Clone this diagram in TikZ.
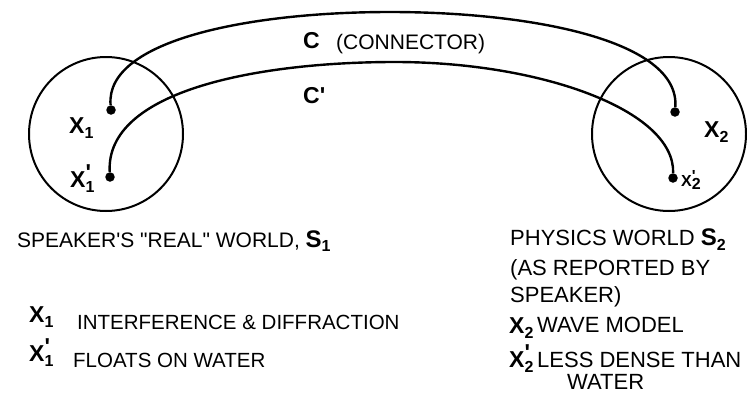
\documentclass[tikz,border=0pt]{standalone}
\usepackage{fontspec}
\setmainfont{Liberation Sans}[Ligatures=TeXOff]
\usepackage{tikz}
\usetikzlibrary{positioning}

\newcommand{\xsub}[1]{\textbf{X}\raisebox{-0.45ex}{\fontsize{16}{16}\selectfont\bfseries #1}}
\newcommand{\xpsub}[1]{\textbf{X}\rlap{\raisebox{0.5ex}{\bfseries '}}\raisebox{-0.45ex}{\fontsize{16}{16}\selectfont\bfseries #1}}

\begin{document}
\begin{tikzpicture}[x=1pt,y=-1pt,
  font=\fontsize{21}{24}\selectfont,
  world/.style={circle,draw,line width=2pt,minimum size=154pt,inner sep=0pt},
  dot/.style={circle,fill,inner sep=0pt,minimum size=9.5pt},
  conn/.style={line width=2.4pt},
  txt/.style={anchor=base west,inner sep=0pt},
  xl/.style={anchor=base west,inner sep=0pt,font=\fontsize{23}{24}\selectfont}]
  \useasboundingbox (0,0) rectangle (747,394);
  % the two worlds
  \node[world] (s1) at (106,134) {};
  \node[world] (s2) at (669,134) {};
  \node[dot] (x1) at (111,110) {};
  \node[dot] (x1p) at (110,177) {};
  \node[dot] (x2) at (675,112) {};
  \node[dot] (x2p) at (673,178) {};
  \node[xl] (lx1) at (69,133) {\xsub{1}};
  \node[xl] (lx1p) at (70,187) {\xpsub{1}};
  \node[xl] (lx2) at (704,137) {\xsub{2}};
  \node[xl,font=\fontsize{16}{17}\selectfont] (lx2p) at (681,186) {\xpsub{2}};
  % connectors
  \draw[conn] (x1) .. controls (105,40) and (250,12) .. (390,12)
                   .. controls (530,12) and (680,40) .. (x2);
  \draw[conn] (x1p) .. controls (105,90) and (260,62) .. (395,62)
                    .. controls (540,62) and (675,110) .. (x2p);
  \node[txt,font=\fontsize{23}{24}\selectfont\bfseries] (c) at (303,48) {C};
  \node[txt] (cname) at (336,49) {(CONNECTOR)};
  \node[txt,font=\fontsize{23}{24}\selectfont\bfseries] (cp) at (303,103) {C'};
  % left legend
  \node[txt] (w1) at (17,247) {SPEAKER'S "REAL" WORLD, {\fontsize{24}{24}\selectfont\bfseries S}\raisebox{-0.45ex}{\fontsize{16}{16}\selectfont\bfseries 1}};
  \node[xl] (k1) at (29,322) {\xsub{1}};
  \node[txt,font=\fontsize{20.5}{24}\selectfont] (d1) at (77,329) {INTERFERENCE \& DIFFRACTION};
  \node[xl] (k1p) at (29,361) {\xpsub{1}};
  \node[txt,font=\fontsize{20.5}{24}\selectfont] (d1p) at (73,367) {FLOATS ON WATER};
  % right legend
  \node[txt,font=\fontsize{22}{24}\selectfont] (w2) at (510,245) {PHYSICS WORLD {\fontsize{24}{24}\selectfont\bfseries S}\raisebox{-0.45ex}{\fontsize{16}{16}\selectfont\bfseries 2}};
  \foreach \y/\txt in {275/(AS REPORTED BY,302/SPEAKER)}
    \node[txt,font=\fontsize{22}{24}\selectfont] at (510,\y) {\txt};
  \node[xl] (k2) at (509,333) {\xsub{2}};
  \node[txt,font=\fontsize{22}{24}\selectfont] (d2) at (537,332) {WAVE MODEL};
  \node[xl] (k2p) at (509,367) {\xpsub{2}};
  \node[txt,font=\fontsize{22}{24}\selectfont] (d2p) at (537,367) {LESS DENSE THAN};
  \node[txt,font=\fontsize{22}{24}\selectfont] (d2q) at (567,389) {WATER};
\end{tikzpicture}
\end{document}
